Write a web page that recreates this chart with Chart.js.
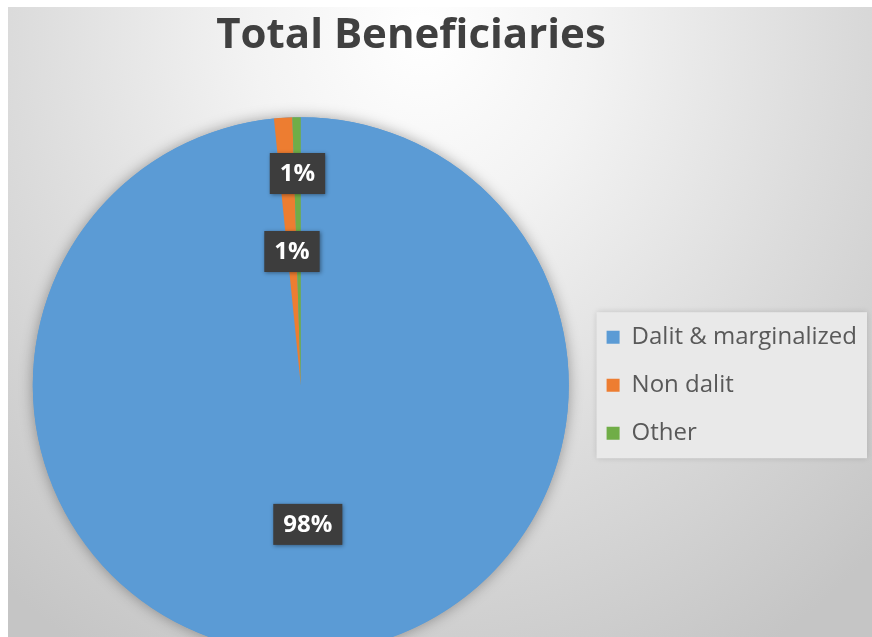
<!DOCTYPE html>
<html>
<head>
<meta charset="utf-8">
<script src="https://cdn.jsdelivr.net/npm/chart.js@4"></script>
<style>
  html, body { margin: 0; padding: 0; background: #ffffff; overflow: hidden; width: 872px; height: 637px; }
  #bg {
    position: absolute; left: 8px; top: 7px; width: 864px; height: 630px;
    background: radial-gradient(ellipse 75% 115% at 48% 4%, #ffffff 0%, #f3f3f3 26%, #dcdcdc 62%, #c5c5c5 100%);
  }
  #chart { position: absolute; left: 0; top: 0; }
</style>
</head>
<body>
<div id="bg"></div>
<canvas id="chart" width="872" height="700"></canvas>
<script>
const categories = ['Dalit & marginalized', 'Non dalit', 'Other'];
const shares = [98.4, 1.1, 0.5];
const sliceColors = ['#5B9BD5', '#ED7D31', '#70AD47'];
// how far out along the slice each label sits (fraction of radius)
const labelDepth = [0.52, 0.5, 0.79];

const total = shares.reduce((a, b) => a + b, 0);

const legendFont = { family: '"Open Sans"', size: 24 };
const legendPad = 24;
const legendBox = 13;

// work out the legend width so the pie lands where it should
const m = document.createElement('canvas').getContext('2d');
m.font = legendFont.size + 'px ' + legendFont.family;
const textW = Math.max(...categories.map(c => m.measureText(c).width));
const legendW = legendPad + legendBox + legendFont.size / 2 + textW + 10;
const legendLeft = 607 - legendPad;
const padRight = Math.max(0, Math.round(872 - (legendLeft + legendW)));
const padLeft = 2 * 301 - legendLeft;

// soft halo under the pie
const pieShadow = {
  id: 'pieShadow',
  beforeDatasetsDraw(chart) {
    const arc = chart.getDatasetMeta(0).data[0];
    if (!arc) return;
    const { x, y, outerRadius } = arc.getProps(['x', 'y', 'outerRadius'], true);
    const ctx = chart.ctx;
    ctx.save();
    ctx.shadowColor = 'rgba(0,0,0,0.35)';
    ctx.shadowBlur = 14;
    ctx.fillStyle = sliceColors[0];
    ctx.beginPath();
    ctx.arc(x, y, outerRadius, 0, Math.PI * 2);
    ctx.fill();
    ctx.restore();
  }
};

// dark callout boxes with the percentages
const sliceLabels = {
  id: 'sliceLabels',
  afterDatasetsDraw(chart) {
    const ctx = chart.ctx;
    const meta = chart.getDatasetMeta(0);
    ctx.save();
    ctx.font = 'bold 24px "Open Sans"';
    ctx.textAlign = 'center';
    ctx.textBaseline = 'middle';
    meta.data.forEach((arc, i) => {
      const p = arc.getProps(['x', 'y', 'startAngle', 'endAngle', 'outerRadius'], true);
      const mid = (p.startAngle + p.endAngle) / 2;
      const r = p.outerRadius * labelDepth[i];
      const cx = p.x + Math.cos(mid) * r;
      const cy = p.y + Math.sin(mid) * r;
      const text = Math.round(shares[i] / total * 100) + '%';
      const w = ctx.measureText(text).width + 20;
      const h = 41;
      ctx.shadowColor = 'rgba(0,0,0,0.4)';
      ctx.shadowBlur = 4;
      ctx.shadowOffsetX = 1;
      ctx.shadowOffsetY = 1;
      ctx.fillStyle = '#3d3d3d';
      ctx.fillRect(cx - w / 2, cy - h / 2, w, h);
      ctx.shadowColor = 'transparent';
      ctx.fillStyle = '#ffffff';
      ctx.fillText(text, cx, cy + 1);
    });
    ctx.restore();
  }
};

// light panel behind the legend
const legendPanel = {
  id: 'legendPanel',
  beforeDraw(chart) {
    const boxes = chart.legend && chart.legend.legendHitBoxes;
    if (!boxes || !boxes.length) return;
    const first = boxes[0];
    const last = boxes[boxes.length - 1];
    const ctx = chart.ctx;
    const x0 = first.left - 10;
    const y0 = first.top - 13;
    const y1 = last.top + last.height + 13;
    ctx.save();
    ctx.shadowColor = 'rgba(0,0,0,0.15)';
    ctx.shadowBlur = 6;
    ctx.fillStyle = '#e9e9e9';
    ctx.fillRect(x0, y0, 867 - x0, y1 - y0);
    ctx.restore();
  }
};

// the title sits over the whole chart frame, not the canvas centre
const titleSpan = {
  id: 'titleSpan',
  afterLayout(chart) {
    if (chart.titleBlock) {
      chart.titleBlock.left = 0;
      chart.titleBlock.right = 822;
    }
  }
};

new Chart(document.getElementById('chart'), {
  type: 'pie',
  data: {
    labels: categories,
    datasets: [{
      data: shares,
      backgroundColor: sliceColors,
      borderWidth: 0
    }]
  },
  options: {
    responsive: false,
    animation: false,
    devicePixelRatio: 1,
    radius: 268,
    layout: { padding: { left: padLeft, right: padRight, top: 0, bottom: 1 } },
    plugins: {
      title: {
        display: true,
        text: 'Total Beneficiaries',
        color: '#404040',
        font: { family: '"Open Sans"', size: 42, weight: 'bold' },
        padding: { top: 11, bottom: 10 }
      },
      legend: {
        position: 'right',
        fullSize: false,
        labels: {
          color: '#595959',
          font: legendFont,
          boxWidth: legendBox,
          boxHeight: legendBox,
          padding: legendPad
        }
      },
      tooltip: { enabled: false }
    }
  },
  plugins: [titleSpan, legendPanel, pieShadow, sliceLabels]
});
</script>
</body>
</html>
